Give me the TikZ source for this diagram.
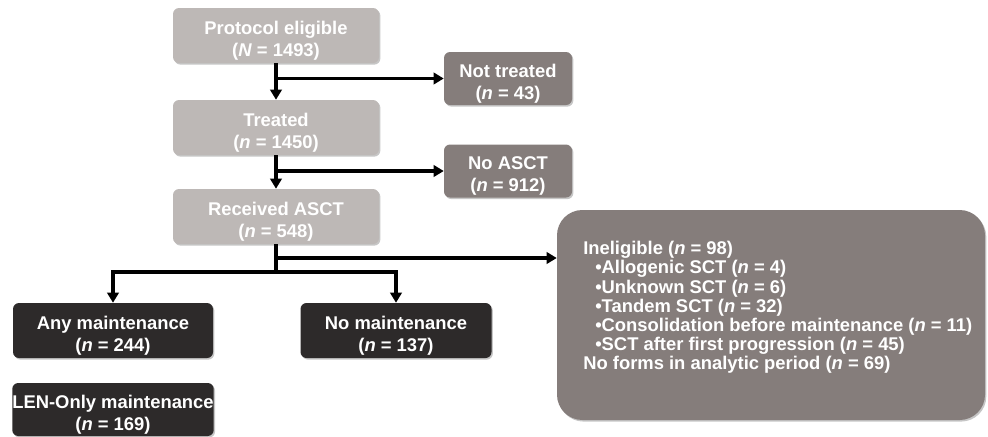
\documentclass[tikz,border=0pt]{standalone}
\usepackage{fontspec}
\setmainfont{Liberation Sans}
\usepackage{tikz}
\usetikzlibrary{arrows.meta}
\usetikzlibrary{shadows}
\definecolor{lightbox}{HTML}{BDB8B6}
\definecolor{midbox}{HTML}{857D7B}
\definecolor{darkbox}{HTML}{2D2A2A}

\begin{document}
\begin{tikzpicture}[x=0.75pt,y=-0.75pt,
  flowbox/.style={rectangle,rounded corners=4.5pt,text=white,align=center,
    font=\fontsize{13.8}{16.5}\selectfont\bfseries,inner sep=0pt,
    text height=31pt,text depth=0pt,
    drop shadow={shadow xshift=1pt,shadow yshift=-1.2pt,opacity=0.45}},
  lightstep/.style={flowbox,fill=lightbox,minimum width=154.5pt,minimum height=41.25pt},
  exitbox/.style={flowbox,fill=midbox,minimum width=96pt,minimum height=39.75pt},
  maintbox/.style={flowbox,fill=darkbox,minimum height=41.25pt},
  arr/.style={line width=2.3pt,-{Triangle[width=8.5pt,length=7.5pt]}},
  seg/.style={line width=2.3pt}]
\useasboundingbox (0,0) rectangle (988,436);
% main stream
\path (276,35.5) node(pe) [lightstep]{Protocol eligible\\(\textit{N} = 1493)};
\path (276,127.5) node(tr) [lightstep]{Treated\\(\textit{n} = 1450)};
\path (276,216.5) node(ra) [lightstep]{Received ASCT\\(\textit{n} = 548)};
% drop outs
\path (508,78.5) node(nt) [exitbox]{Not treated\\(\textit{n} = 43)};
\path (508,171) node(na) [exitbox]{No ASCT\\(\textit{n} = 912)};
% maintenance
\path (113,330.5) node(any) [maintbox,minimum width=150pt]{Any maintenance\\(\textit{n} = 244)};
\path (396,330.5) node(nm) [maintbox,minimum width=143.25pt]{No maintenance\\(\textit{n} = 137)};
\path (113,409.5) node(len) [maintbox,minimum width=150pt,minimum height=39.75pt]{LEN-Only maintenance\\(\textit{n} = 169)};
% ineligible
\path (771,315) node(inelig) [flowbox,fill=midbox,rounded corners=19pt,minimum width=321pt,minimum height=157.5pt]{};
\path (583,241) node(ineliglist) [anchor=north west,inner sep=0pt,text=white,align=left,
  font=\fontsize{13.8}{14.4}\selectfont\bfseries]{Ineligible (\textit{n} = 98)\\
\hspace*{9pt}•Allogenic SCT (\textit{n} = 4)\\
\hspace*{9pt}•Unknown SCT (\textit{n} = 6)\\
\hspace*{9pt}•Tandem SCT (\textit{n} = 32)\\
\hspace*{9pt}•Consolidation before maintenance (\textit{n} = 11)\\
\hspace*{9pt}•SCT after first progression (\textit{n} = 45)\\
No forms in analytic period (\textit{n} = 69)};
% connectors
\coordinate (split) at (276,272);
\coordinate (branch) at (276,258);
\draw[arr] (pe.south) -- (tr.north);
\draw[arr] (pe.south |- nt.west) -- (nt.west);
\draw[arr] (tr.south) -- (ra.north);
\draw[arr] (tr.south |- na.west) -- (na.west);
\draw[seg] (ra.south) -- (split);
\draw[arr] (branch) -- (inelig.west |- branch);
\draw[arr] (split) -| (any.north);
\draw[arr] (split) -| (nm.north);
\end{tikzpicture}
\end{document}
